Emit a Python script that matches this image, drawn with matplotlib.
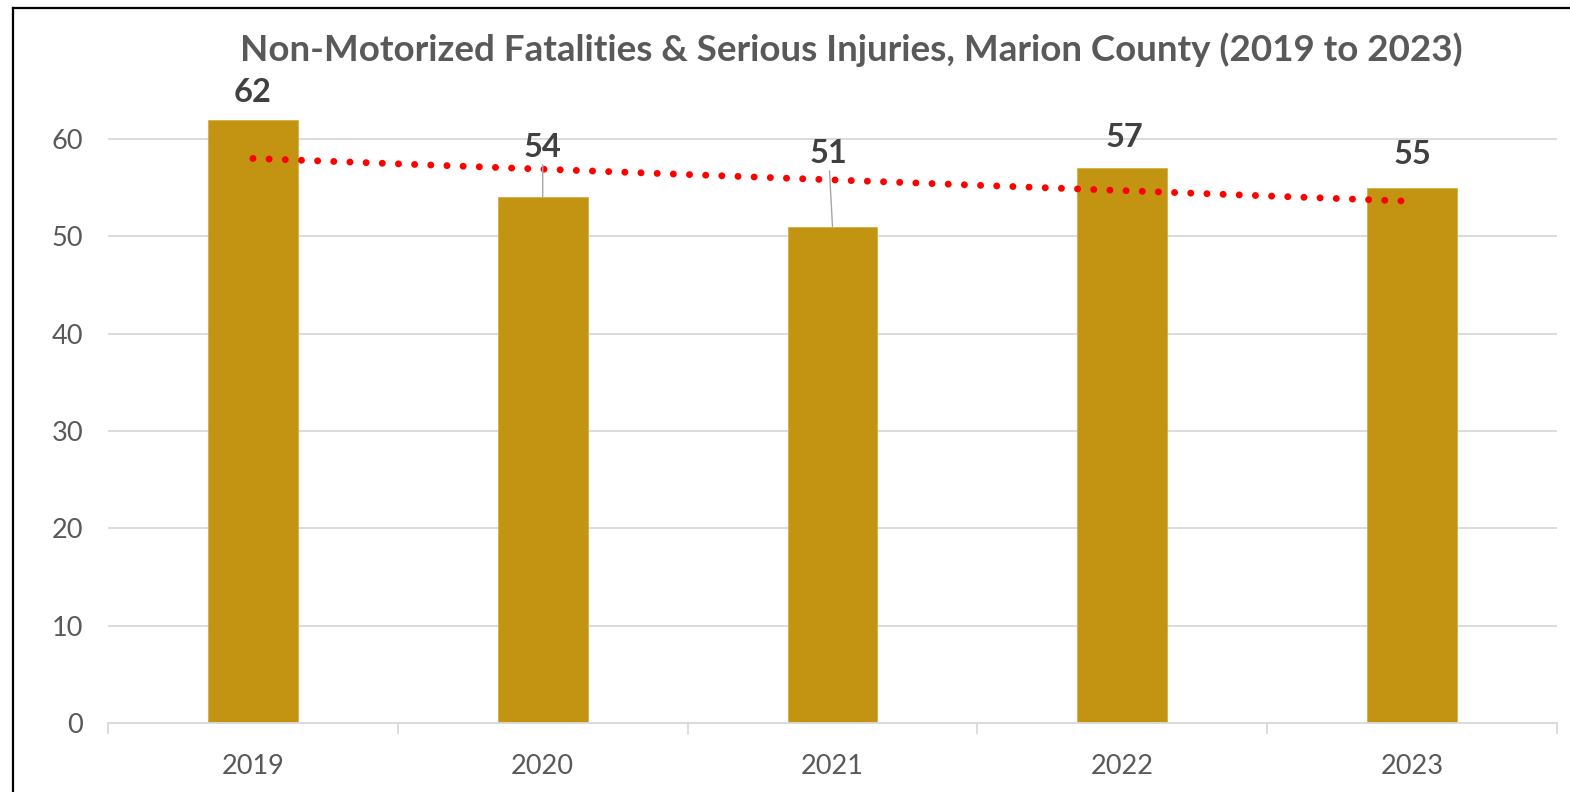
import numpy as np
import matplotlib
matplotlib.use("Agg")
import matplotlib.pyplot as plt
from matplotlib.lines import Line2D
from matplotlib.ticker import FixedLocator

years = ["2019", "2020", "2021", "2022", "2023"]
values = [62, 54, 51, 57, 55]
yticks = [0, 10, 20, 30, 40, 50, 60]
title = "Non-Motorized Fatalities & Serious Injuries, Marion County (2019 to 2023)"

# label offsets in pixels (dx, dy) above bar tops, and whether a leader line is drawn
label_offsets = [(0, 27), (0, 50), (-4, 73), (2, 31), (0, 33)]
leaders = [False, True, True, False, False]

W, H, DPI = 1570, 792, 100
plt.rcParams['font.family'] = ['Lato', 'DejaVu Sans']
fig = plt.figure(figsize=(W / DPI, H / DPI), dpi=DPI)

px_per_unit = (723 - 139) / 60.0
ymax = 66
ax_top = 723 - ymax * px_per_unit
ax = fig.add_axes([108 / W, (H - 723) / H, (1557 - 108) / W, (723 - ax_top) / H])

x = np.arange(len(years))
ax.bar(x, values, width=0.31, color="#C39312", edgecolor="#D2AE4C", lw=0.6, zorder=2)

# linear trendline
coef = np.polyfit(x + 1, values, 1)
trend = np.polyval(coef, x + 1)
ax.plot(x, trend, color="red", lw=5.0, linestyle=(0, (0.01, 2.32)),
        dash_capstyle="round", zorder=3)

ax.set_xlim(-0.5, len(years) - 0.5)
ax.set_ylim(0, ymax)
ax.set_yticks(yticks)
ax.yaxis.grid(True, color="#D9D9D9", lw=1.3, zorder=0)
ax.set_axisbelow(True)
for s in ["top", "right", "left"]:
    ax.spines[s].set_visible(False)
ax.spines["bottom"].set_color("#D9D9D9")
ax.spines["bottom"].set_linewidth(1.3)

ax.set_xticks(x)
ax.set_xticklabels(years)
ax.xaxis.set_minor_locator(FixedLocator(np.arange(-0.5, len(years), 1.0)))
ax.tick_params(axis="x", which="major", length=0, pad=22, labelsize=19.5, labelcolor="#595959")
ax.tick_params(axis="x", which="minor", length=8, width=1.3, color="#D9D9D9")
ax.tick_params(axis="y", length=0, pad=18, labelsize=19.5, labelcolor="#595959")

for i, v in enumerate(values):
    dx, dy = label_offsets[i]
    kw = {}
    if leaders[i]:
        kw["arrowprops"] = dict(arrowstyle="-", color="#A6A6A6", lw=1.0,
                                shrinkA=0, shrinkB=0)
    ax.annotate(str(v), xy=(x[i], v), xytext=(dx, dy), textcoords="offset pixels",
                ha="center", va="center", fontsize=23.5, fontweight="bold",
                color="#404040", annotation_clip=False, **kw)

fig.text(851 / W, 1 - 50 / H, title, ha="center", va="center",
         fontsize=26.5, fontweight="bold", color="#595959")

# chart border (top and left visible)
fig.add_artist(Line2D([12.5 / W, 12.5 / W], [0, 1 - 7.5 / H], transform=fig.transFigure,
                      color="black", lw=1.6))
fig.add_artist(Line2D([12.5 / W, 1], [1 - 7.5 / H, 1 - 7.5 / H], transform=fig.transFigure,
                      color="black", lw=1.6))

fig.savefig("out.png", dpi=DPI)
